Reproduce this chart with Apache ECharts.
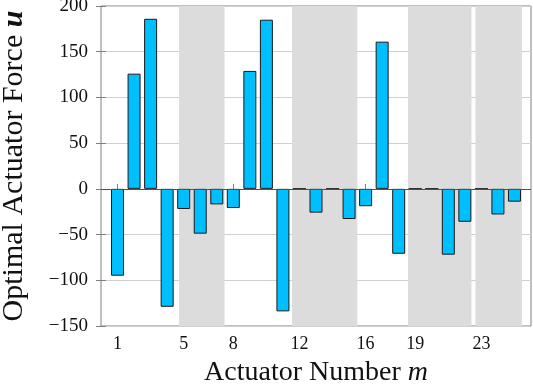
<!DOCTYPE html>
<html lang="en">
<head>
    <meta charset="utf-8">
    <title>Optimal Actuator Force</title>
    <script src="https://cdn.jsdelivr.net/npm/echarts@6/dist/echarts.min.js"></script>
    <style>
        html, body { margin: 0; padding: 0; background: #fff; }
        #chart { width: 533px; height: 389px; }
    </style>
</head>
<body>
    <div id="chart"></div>
    <script>
        // actuator number m and optimal force u
        var actuators = [1, 2, 3, 4, 5, 6, 7, 8, 9, 10, 11, 12, 13, 14, 15, 16, 17, 18, 19, 20, 21, 22, 23, 24, 25];
        var forces = [-95, 126, 186, -129, -22, -49, -17, -21, 129, 185, -134, 0, -26, 0, -33, -19, 161, -71, 0, 0, -72, -36, 0, -28, -14];
        // x tick labels shown under the axis
        var xTicks = [1, 5, 8, 12, 16, 19, 23];
        // grey shaded ranges (start, end) along the actuator axis
        var bandStarts = [4.72, 11.55, 18.56, 22.64];
        var bandEnds = [7.47, 15.5, 22.4, 25.45];

        var chart = echarts.init(document.getElementById('chart'));

        var serif = 'Liberation Serif';
        var axisGrey = '#808080';
        var minus = function (v) { return String(v).replace('-', '\u2212'); };

        var barData = actuators.map(function (m, i) { return [m, forces[i]]; });
        var bands = bandStarts.map(function (s, i) {
            return [{ xAxis: s }, { xAxis: bandEnds[i] }];
        });

        var option = {
            animation: false,
            grid: {
                left: 101, right: 2, top: 6, bottom: 63,
                outerBoundsMode: 'none', containLabel: false,
                show: true, borderColor: axisGrey, borderWidth: 1
            },
            xAxis: [{
                type: 'value', min: 0, max: 26, position: 'bottom',
                name: '{t|Actuator Number }{m|m}',
                nameLocation: 'middle', nameGap: 33,
                nameTextStyle: {
                    rich: {
                        t: { fontFamily: serif, fontSize: 28, color: '#111' },
                        m: { fontFamily: serif, fontSize: 28, fontStyle: 'italic', color: '#111' }
                    }
                },
                axisLine: { show: false },
                splitLine: { show: false },
                axisTick: { inside: true, length: 5, customValues: xTicks, lineStyle: { color: axisGrey } },
                axisLabel: { customValues: xTicks, fontFamily: serif, fontSize: 18, color: '#111', margin: 9 }
            }, {
                type: 'value', min: 0, max: 26, position: 'top',
                axisLine: { show: false },
                splitLine: { show: false },
                axisTick: { inside: true, length: 5, customValues: xTicks, lineStyle: { color: axisGrey } },
                axisLabel: { show: false }
            }],
            yAxis: [{
                type: 'value', min: -150, max: 200, interval: 50, position: 'left',
                name: '{t|Optimal Actuator Force }{u|u}',
                nameLocation: 'middle', nameGap: 72, nameRotate: 90,
                nameTextStyle: {
                    rich: {
                        t: { fontFamily: serif, fontSize: 30, color: '#111' },
                        u: { fontFamily: serif, fontSize: 30, fontStyle: 'italic', fontWeight: 'bold', color: '#111' }
                    }
                },
                axisLine: { show: false },
                splitLine: { show: true, lineStyle: { color: '#d0d0d0', width: 1 } },
                axisTick: { inside: true, length: 5, lineStyle: { color: axisGrey } },
                axisLabel: { fontFamily: serif, fontSize: 19, color: '#111', margin: 13, formatter: minus }
            }, {
                type: 'value', min: -150, max: 200, interval: 50, position: 'right',
                axisLine: { show: false },
                splitLine: { show: false },
                axisTick: { inside: true, length: 5, lineStyle: { color: axisGrey } },
                axisLabel: { show: false }
            }],
            series: [{
                // shaded bands
                type: 'line', data: [], z: 1, silent: true,
                markArea: {
                    silent: true,
                    itemStyle: { color: '#dcdcdc' },
                    label: { show: false },
                    data: bands
                }
            }, {
                type: 'bar', z: 3,
                data: barData,
                barWidth: 13,
                itemStyle: { color: '#00BFFF', borderColor: '#1a1a1a', borderWidth: 1 },
                markLine: {
                    silent: true, symbol: 'none',
                    label: { show: false },
                    lineStyle: { color: '#505050', width: 1, type: 'solid' },
                    data: [{ yAxis: 0 }]
                }
            }]
        };

        chart.setOption(option);
    </script>
</body>
</html>
